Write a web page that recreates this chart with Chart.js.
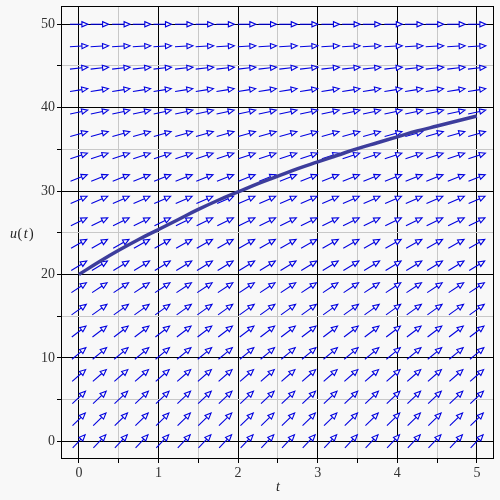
<!DOCTYPE html>
<html>
<head>
<meta charset="utf-8">
<script src="https://cdn.jsdelivr.net/npm/chart.js@4/dist/chart.umd.min.js"></script>
<style>
  html, body { margin: 0; padding: 0; background: #f8f8f8; }
  canvas { display: block; }
</style>
</head>
<body>
<canvas id="c" width="500" height="500"></canvas>
<script>
// Direction field of du/dt on a 20 x 20 grid, plus one solution curve from u(0) = 20.
const fieldT = [0, 0.26, 0.53, 0.79, 1.05, 1.32, 1.58, 1.84, 2.11, 2.37,
                2.63, 2.89, 3.16, 3.42, 3.68, 3.95, 4.21, 4.47, 4.74, 5];
const fieldU = [0, 2.63, 5.26, 7.89, 10.53, 13.16, 15.79, 18.42, 21.05, 23.68,
                26.32, 28.95, 31.58, 34.21, 36.84, 39.47, 42.11, 44.74, 47.37, 50];
// slope du/dt for each row of fieldU
const fieldSlope = [10, 9.47, 8.95, 8.42, 7.89, 7.37, 6.84, 6.32, 5.79, 5.26,
                    4.74, 4.21, 3.68, 3.16, 2.63, 2.11, 1.58, 1.05, 0.53, 0];

// solution curve u(t)
const curveT = [0, 0.25, 0.5, 0.75, 1, 1.25, 1.5, 1.75, 2, 2.25, 2.5,
                2.75, 3, 3.25, 3.5, 3.75, 4, 4.25, 4.5, 4.75, 5];
const curveU = [20, 21.5, 22.9, 24.2, 25.4, 26.6, 27.8, 28.9, 29.9, 30.9, 31.8,
                32.7, 33.5, 34.3, 35.1, 35.8, 36.5, 37.2, 37.8, 38.4, 39.0];

const tTicks = [0, 0.5, 1, 1.5, 2, 2.5, 3, 3.5, 4, 4.5, 5];
const uTicks = [0, 5, 10, 15, 20, 25, 30, 35, 40, 45, 50];
const tLabels = ['0', '', '1', '', '2', '', '3', '', '4', '', '5'];
const uLabels = ['0', '', '10', '', '20', '', '30', '', '40', '', '50'];

const BG = '#f8f8f8';
const serif = '"Liberation Serif", "DejaVu Serif", serif';

const fieldPlugin = {
  id: 'directionField',
  beforeDatasetsDraw(chart) {
    const xs = chart.scales.x, ys = chart.scales.y, ctx = chart.ctx;
    const ux = xs.getPixelForValue(1) - xs.getPixelForValue(0);
    const L = 18, headLen = 6, headHalf = 2.6;
    ctx.save();
    ctx.beginPath();
    ctx.rect(chart.chartArea.left, chart.chartArea.top,
             chart.chartArea.right - chart.chartArea.left,
             chart.chartArea.bottom - chart.chartArea.top);
    ctx.clip();
    ctx.strokeStyle = '#0000e0';
    ctx.fillStyle = BG;
    ctx.lineWidth = 1.1;
    fieldU.forEach((u, j) => {
      const uy = ys.getPixelForValue(fieldSlope[j]) - ys.getPixelForValue(0);
      const n = Math.hypot(ux, uy);
      const dx = ux / n, dy = uy / n;
      fieldT.forEach(t => {
        const cx = xs.getPixelForValue(t), cy = ys.getPixelForValue(u);
        const sx = cx - dx * L / 2, sy = cy - dy * L / 2;
        const ex = cx + dx * L / 2, ey = cy + dy * L / 2;
        const bx = ex - dx * headLen, by = ey - dy * headLen;
        ctx.beginPath();
        ctx.moveTo(sx, sy);
        ctx.lineTo(bx, by);
        ctx.stroke();
        ctx.beginPath();
        ctx.moveTo(ex, ey);
        ctx.lineTo(bx - dy * headHalf, by + dx * headHalf);
        ctx.lineTo(bx + dy * headHalf, by - dx * headHalf);
        ctx.closePath();
        ctx.fill();
        ctx.stroke();
      });
    });
    ctx.restore();
  },
  afterDraw(chart) {
    const a = chart.chartArea, ctx = chart.ctx;
    ctx.save();
    ctx.strokeStyle = '#000';
    ctx.lineWidth = 1;
    ctx.strokeRect(Math.round(a.left) + 0.5, Math.round(a.top) + 0.5,
                   Math.round(a.right - a.left) - 1, Math.round(a.bottom - a.top) - 1);
    // axis names
    ctx.fillStyle = '#222';
    ctx.textBaseline = 'middle';
    ctx.textAlign = 'left';
    let x = 10;
    const y = 234;
    const parts = [['u', 'italic'], ['(', 'normal'], ['t', 'italic'], [')', 'normal']];
    parts.forEach(([s, st]) => {
      ctx.font = st + ' 14px ' + serif;
      ctx.fillText(s, x, y);
      x += ctx.measureText(s).width + (s === '(' || s === 't' ? 1.5 : 0.5);
    });
    ctx.font = 'italic 14px ' + serif;
    ctx.textAlign = 'center';
    ctx.fillText('t', (a.left + a.right) / 2 + 0.5, 487);
    ctx.restore();
  }
};

const gridColor = (ctx) => (ctx.tick && ctx.tick.label !== '' ? '#000000' : '#c8c8c8');

new Chart(document.getElementById('c'), {
  type: 'scatter',
  data: {
    datasets: [{
      data: curveT.map((t, i) => ({ x: t, y: curveU[i] })),
      showLine: true,
      borderColor: '#3d3d9c',
      borderWidth: 3.5,
      pointRadius: 0,
      tension: 0.4,
      fill: false
    }]
  },
  options: {
    responsive: false,
    animation: false,
    events: [],
    layout: { padding: { top: 6, right: 6, left: 0, bottom: 0 } },
    plugins: { legend: { display: false }, tooltip: { enabled: false } },
    scales: {
      x: {
        type: 'linear',
        min: -0.225,
        max: 5.215,
        afterBuildTicks: (s) => { s.ticks = tTicks.map(v => ({ value: v })); },
        afterFit: (s) => { s.height = 41; s.paddingLeft = 0; s.paddingRight = 0; },
        ticks: {
          autoSkip: false,
          maxRotation: 0,
          padding: 2,
          color: '#333',
          font: { family: serif, size: 14 },
          callback: (v, i) => tLabels[i]
        },
        grid: { color: gridColor, tickColor: '#000', tickLength: 4, lineWidth: 1 },
        border: { display: false }
      },
      y: {
        type: 'linear',
        min: -2.12,
        max: 52.19,
        afterBuildTicks: (s) => { s.ticks = uTicks.map(v => ({ value: v })); },
        afterFit: (s) => { s.width = 61; s.paddingTop = 0; s.paddingBottom = 0; },
        ticks: {
          autoSkip: false,
          padding: 2,
          color: '#333',
          font: { family: serif, size: 14 },
          callback: (v, i) => uLabels[i]
        },
        grid: { color: gridColor, tickColor: '#000', tickLength: 4, lineWidth: 1 },
        border: { display: false }
      }
    }
  },
  plugins: [fieldPlugin]
});
</script>
</body>
</html>
